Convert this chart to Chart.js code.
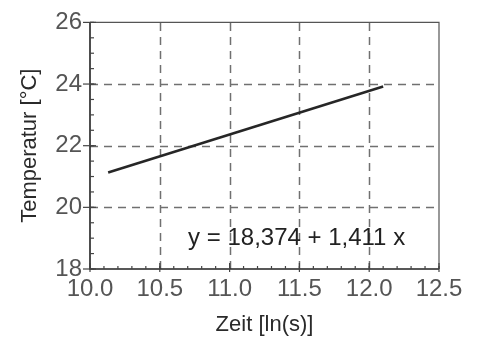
<!DOCTYPE html>
<html>
<head>
<meta charset="utf-8">
<script src="https://cdn.jsdelivr.net/npm/chart.js@4/dist/chart.umd.min.js"></script>
<style>
	html, body {margin: 0; padding: 0; background: #fff;}
	#box {width: 480px; height: 338px; position: relative;}
</style>
</head>
<body>
<div id="box"><canvas id="myChart"></canvas></div>
<script>
// Values
let lineX = [10.13, 12.10]
let lineY = [21.13, 23.92]
let xTicks = [10.0, 10.5, 11.0, 11.5, 12.0, 12.5]
let yTicks = [18, 20, 22, 24, 26]
let fitText = "y = 18,374 + 1,411 x"
let fitPos = {x: 11.48, y: 18.98}

let ctx = document.getElementById("myChart").getContext("2d")
let fontName = "'Liberation Sans', Arial, Helvetica, sans-serif"

// grid, frame, minor ticks and the fit text
let framePlugin = {
	id: "frame",
	beforeDatasetsDraw(chart) {
		let c = chart.ctx
		let xs = chart.scales.x
		let ys = chart.scales.y
		let a = chart.chartArea
		c.save()

		// dashed grid on inner major ticks
		c.strokeStyle = "#707070"
		c.lineWidth = 1.5
		c.setLineDash([8, 6])
		xTicks.slice(1, -1).forEach(function (v) {
			let px = Math.round(xs.getPixelForValue(v)) + 0.5
			c.beginPath()
			c.moveTo(px, a.bottom)
			c.lineTo(px, a.top)
			c.stroke()
		})
		yTicks.slice(1, -1).forEach(function (v) {
			let py = Math.round(ys.getPixelForValue(v)) + 0.5
			c.beginPath()
			c.moveTo(a.left, py)
			c.lineTo(a.right, py)
			c.stroke()
		})
		c.setLineDash([])

		// top and right border
		c.strokeStyle = "#555"
		c.lineWidth = 1.2
		c.beginPath()
		c.moveTo(a.left, a.top)
		c.lineTo(a.right, a.top)
		c.lineTo(a.right, a.bottom)
		c.stroke()

		// left and bottom axis
		c.strokeStyle = "#222"
		c.lineWidth = 1.6
		c.beginPath()
		c.moveTo(a.left, a.top)
		c.lineTo(a.left, a.bottom)
		c.lineTo(a.right, a.bottom)
		c.stroke()

		// minor ticks, inward
		c.lineWidth = 1.2
		c.strokeStyle = "#444"
		for (let v = yTicks[0]; v <= yTicks[yTicks.length - 1] + 0.01; v += 0.5) {
			let py = ys.getPixelForValue(v)
			c.beginPath()
			c.moveTo(a.left, py)
			c.lineTo(a.left + 4, py)
			c.stroke()
		}
		for (let v = xTicks[0]; v <= xTicks[xTicks.length - 1] + 0.01; v += 0.1) {
			let px = xs.getPixelForValue(v)
			c.beginPath()
			c.moveTo(px, a.bottom)
			c.lineTo(px, a.bottom - 3)
			c.stroke()
		}

		// major ticks
		yTicks.forEach(function (v) {
			let py = ys.getPixelForValue(v)
			c.beginPath()
			c.moveTo(a.left - 7, py)
			c.lineTo(a.left + 6, py)
			c.stroke()
		})
		xTicks.forEach(function (v) {
			let px = xs.getPixelForValue(v)
			c.beginPath()
			c.moveTo(px, a.bottom + 3)
			c.lineTo(px, a.bottom - 6)
			c.stroke()
		})

		c.restore()
	},
	afterDatasetsDraw(chart) {
		let c = chart.ctx
		c.save()
		c.font = `24px ${fontName}`
		c.fillStyle = "#222"
		c.textAlign = "center"
		c.textBaseline = "middle"
		c.fillText(fitText, chart.scales.x.getPixelForValue(fitPos.x), chart.scales.y.getPixelForValue(fitPos.y))
		c.restore()
	}
}

let points = lineX.map(function (x, i) {
	return {x: x, y: lineY[i]}
})

let config = {
	type: "scatter",
	data: {
		datasets: [{
			data: points,
			showLine: true,
			borderColor: "#262626",
			borderWidth: 2.6,
			pointRadius: 0,
		}],
	},
	options: {
		responsive: true,
		maintainAspectRatio: false,
		animation: false,
		layout: {
			padding: {top: 19, right: 41, left: 0, bottom: 0}
		},
		plugins: {
			legend: {display: false},
			tooltip: {enabled: false},
		},
		scales: {
			x: {
				type: "linear",
				min: xTicks[0],
				max: xTicks[xTicks.length - 1],
				grid: {display: false, drawTicks: false},
				border: {display: false},
				afterFit: function (scale) { scale.height = 69 },
				afterBuildTicks: function (scale) {
					scale.ticks = xTicks.map(v => ({value: v}))
				},
				ticks: {
					padding: 6,
					color: "#555",
					maxRotation: 0,
					font: {size: 24, family: fontName},
					callback: v => v.toFixed(1),
				},
				title: {
					display: true,
					text: "Zeit [ln(s)]",
					color: "#2a2a2a",
					padding: {top: 0, bottom: 0},
					font: {size: 22, family: fontName, lineHeight: 1.2},
				},
			},
			y: {
				type: "linear",
				min: yTicks[0],
				max: yTicks[yTicks.length - 1],
				grid: {display: false, drawTicks: false},
				border: {display: false},
				afterFit: function (scale) { scale.width = 90 },
				afterBuildTicks: function (scale) {
					scale.ticks = yTicks.map(v => ({value: v}))
				},
				ticks: {
					padding: 8,
					color: "#555",
					font: {size: 24, family: fontName},
				},
				title: {
					display: true,
					text: "Temperatur [°C]",
					color: "#2a2a2a",
					padding: {top: 17, bottom: 0},
					font: {size: 22, family: fontName, lineHeight: 1.2},
				},
			},
		},
	},
	plugins: [framePlugin],
}

let tempChart = new Chart(ctx, config)
</script>
</body>
</html>
